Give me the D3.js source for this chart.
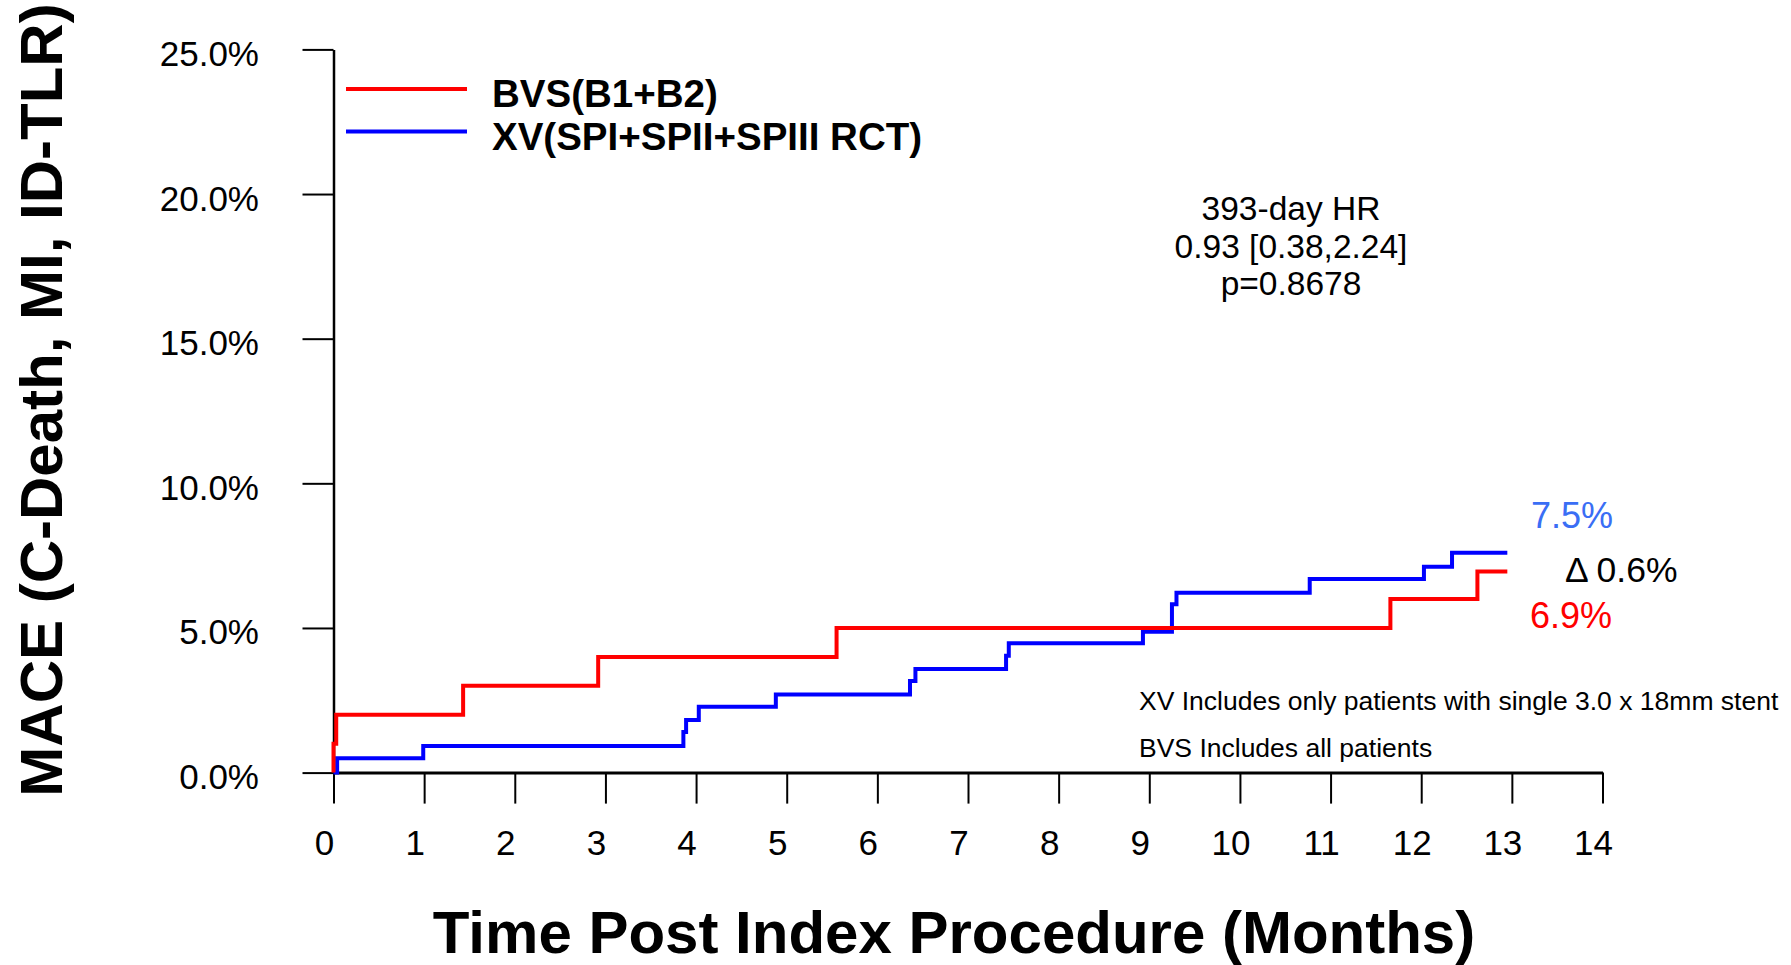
<!DOCTYPE html>
<html>
<head>
<meta charset="utf-8">
<script src="https://cdn.jsdelivr.net/npm/d3@7"></script>
<style>
  body { margin: 0; background: #fff; }
  text { font-family: "Liberation Sans", Arial, sans-serif; }
</style>
</head>
<body>
<div id="chart"></div>
<script>
// MACE curves (months, cumulative %)
var bvsTime = [0, 0, 0.03, 1.43, 2.92, 5.55, 11.66, 12.62, 12.95];
var bvsRate = [0, 1.0, 2.0, 3.0, 4.0, 5.0, 6.0, 6.95, 6.95];

var xvTime = [0, 0.04, 0.99, 3.86, 3.89, 4.03, 4.88, 6.36, 6.42, 7.42, 7.45, 8.93, 9.25, 9.30, 10.77, 12.03, 12.34, 12.95];
var xvRate = [0, 0.5, 0.92, 1.4, 1.82, 2.28, 2.7, 3.17, 3.58, 4.04, 4.47, 4.87, 5.82, 6.22, 6.69, 7.12, 7.6, 7.6];

var seriesNames = ["BVS(B1+B2)", "XV(SPI+SPII+SPIII RCT)"];
var xTicks = [0, 1, 2, 3, 4, 5, 6, 7, 8, 9, 10, 11, 12, 13, 14];
var yTicks = [0, 5, 10, 15, 20, 25];

var hrLines = ["393-day HR", "0.93 [0.38,2.24]", "p=0.8678"];
var endLabels = ["7.5%", "6.9%"];
var deltaLabel = "\u0394 0.6%";
var notes = ["XV Includes only patients with single 3.0 x 18mm stent", "BVS Includes all patients"];

function init() {
  var width = 1791, height = 965;

  var svg = d3.select("#chart")
    .append("svg")
    .attr("width", width)
    .attr("height", height);

  var x = d3.scaleLinear().domain([0, 14]).range([333.5, 1602.5]);
  var y = d3.scaleLinear().domain([0, 25]).range([772.6, 49.4]);

  // axes
  var xAxis = d3.axisBottom(x)
    .tickValues(xTicks)
    .tickSize(31)
    .tickSizeOuter(0)
    .tickFormat(d3.format("d"));

  var gx = svg.append("g")
    .attr("transform", "translate(0," + y(0) + ")")
    .call(xAxis);
  gx.select(".domain").attr("stroke", "#000").attr("stroke-width", 3);
  gx.selectAll(".tick line").attr("stroke", "#000").attr("stroke-width", 2);
  gx.selectAll(".tick text")
    .attr("y", 82)
    .attr("dy", null)
    .attr("x", -9.5)
    .attr("fill", "#000")
    .style("font-family", "'Liberation Sans', Arial, sans-serif")
    .style("font-size", "35px");

  var yAxis = d3.axisLeft(y)
    .tickValues(yTicks)
    .tickSize(31)
    .tickSizeOuter(0)
    .tickFormat(function(d) { return d.toFixed(1) + "%"; });

  var gy = svg.append("g")
    .attr("transform", "translate(" + x(0) + ",0)")
    .call(yAxis);
  gy.select(".domain").attr("stroke", "#000").attr("stroke-width", 2.5);
  gy.selectAll(".tick line").attr("stroke", "#000").attr("stroke-width", 2);
  gy.selectAll(".tick text")
    .attr("x", -74.5)
    .attr("y", 16)
    .attr("dy", null)
    .attr("fill", "#000")
    .style("font-family", "'Liberation Sans', Arial, sans-serif")
    .style("font-size", "35px");

  // step curves
  var series = [
    { name: seriesNames[1], color: "#0000ff", pts: xvTime.map(function(t, i) { return [t, xvRate[i]]; }) },
    { name: seriesNames[0], color: "#ff0000", pts: bvsTime.map(function(t, i) { return [t, bvsRate[i]]; }) }
  ];

  var line = d3.line()
    .curve(d3.curveStepAfter)
    .x(function(d) { return x(d[0]); })
    .y(function(d) { return y(d[1]); });

  svg.selectAll("path.km")
    .data(series)
    .enter()
    .append("path")
    .attr("class", "km")
    .attr("d", function(d) { return line(d.pts); })
    .attr("fill", "none")
    .attr("stroke", function(d) { return d.color; })
    .attr("stroke-width", 4);

  // legend
  var legend = [
    { name: seriesNames[0], color: "#ff0000" },
    { name: seriesNames[1], color: "#0000ff" }
  ];
  var lg = svg.selectAll("g.legend")
    .data(legend)
    .enter()
    .append("g")
    .attr("class", "legend")
    .attr("transform", function(d, i) { return "translate(0," + (i * 42.5) + ")"; });

  lg.append("line")
    .attr("x1", 346).attr("x2", 467)
    .attr("y1", 89).attr("y2", 89)
    .attr("stroke", function(d) { return d.color; })
    .attr("stroke-width", 4);

  lg.append("text")
    .attr("x", 492)
    .attr("y", 107)
    .style("font-size", "38.5px")
    .style("font-weight", "bold")
    .text(function(d) { return d.name; });

  // hazard ratio block
  svg.append("g").selectAll("text")
    .data(hrLines)
    .enter()
    .append("text")
    .attr("x", 1291)
    .attr("y", function(d, i) { return 220 + i * 37.5; })
    .attr("text-anchor", "middle")
    .style("font-size", "33.5px")
    .text(function(d) { return d; });

  // end-of-curve labels
  svg.append("text")
    .attr("x", 1531).attr("y", 528)
    .attr("fill", "#3a6ef5")
    .style("font-size", "36px")
    .text(endLabels[0]);

  svg.append("text")
    .attr("x", 1530).attr("y", 628)
    .attr("fill", "#ff0000")
    .style("font-size", "36px")
    .text(endLabels[1]);

  svg.append("text")
    .attr("x", 1565).attr("y", 582)
    .attr("fill", "#000")
    .style("font-size", "35.5px")
    .text(deltaLabel);

  // footnotes
  svg.append("g").selectAll("text")
    .data(notes)
    .enter()
    .append("text")
    .attr("x", 1139)
    .attr("y", function(d, i) { return 710 + i * 47; })
    .style("font-size", "26.5px")
    .text(function(d) { return d; });

  // axis titles
  svg.append("text")
    .attr("x", 954)
    .attr("y", 953)
    .attr("text-anchor", "middle")
    .style("font-size", "60px")
    .style("font-weight", "bold")
    .text("Time Post Index Procedure (Months)");

  svg.append("text")
    .attr("transform", "translate(62,400) rotate(-90)")
    .attr("text-anchor", "middle")
    .style("font-size", "60px")
    .style("font-weight", "bold")
    .text("MACE (C-Death, MI, ID-TLR)");
}

window.onload = init;
</script>
</body>
</html>
